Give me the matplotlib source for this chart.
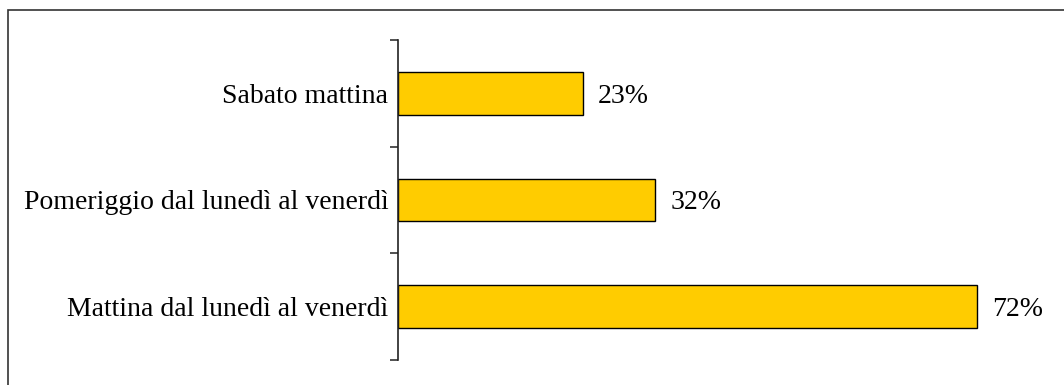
import matplotlib
matplotlib.use("Agg")
import matplotlib.pyplot as plt
from matplotlib.patches import Rectangle

categories = ["Mattina dal lunedì al venerdì",
              "Pomeriggio dal lunedì al venerdì",
              "Sabato mattina"]
values = [72, 32, 23]
value_labels = ["72%", "32%", "23%"]

plt.rcParams['font.family'] = ['Liberation Serif', 'DejaVu Serif']

W, H = 1064, 385
fig = plt.figure(figsize=(W / 100, H / 100), dpi=100)

# frame around the chart area (open at right and bottom edges)
fig.patches.append(Rectangle((8 / W, -0.5), 1.5, 1.5 - 10 / H, transform=fig.transFigure,
                             fill=False, edgecolor='#333333', linewidth=1.2))

ax = fig.add_axes([398 / W, 1 - 360 / H, (1041 - 398) / W, (360 - 40) / H])
y = list(range(len(categories)))
ax.barh(y, values, height=0.4, color='#FFCC00', edgecolor='black', linewidth=1.0)

ax.set_xlim(0, 80)
ax.set_ylim(-0.5, len(categories) - 0.5)
for s in ['top', 'right', 'bottom']:
    ax.spines[s].set_visible(False)
ax.spines['left'].set_color('#222222')
ax.spines['left'].set_linewidth(1.2)
ax.set_xticks([])

# tick marks between categories, labels at category centres
ax.set_yticks([i - 0.5 for i in range(len(categories) + 1)])
ax.set_yticklabels([])
ax.tick_params(axis='y', which='major', length=6, width=1.2, color='#333333', direction='out')
ax.set_yticks(y, minor=True)
ax.set_yticklabels(categories, minor=True, fontsize=20)
ax.tick_params(axis='y', which='minor', length=0, pad=7)

for yi, v, lab in zip(y, values, value_labels):
    ax.annotate(lab, (v, yi), xytext=(11, -2), textcoords='offset points',
                va='center', ha='left', fontsize=20)

fig.savefig('out.png', dpi=100)
